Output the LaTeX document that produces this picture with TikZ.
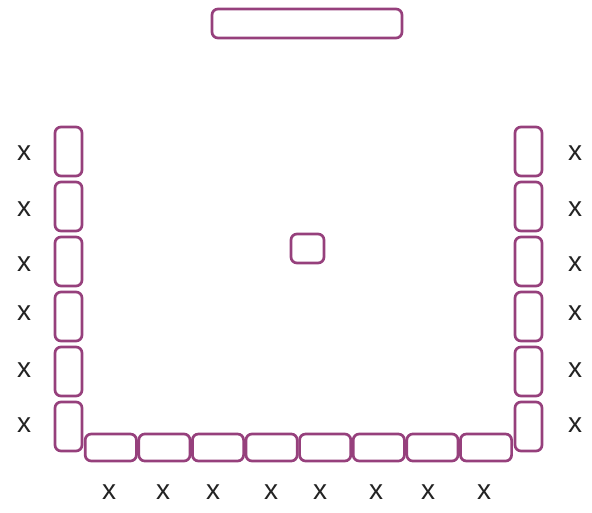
\documentclass[tikz,border=0pt]{standalone}
\usepackage{fontspec}
\setmainfont{Liberation Sans}
\usepackage{tikz}
\usetikzlibrary{arrows.meta, positioning}
\definecolor{seatpurple}{RGB}{150, 64, 124}
\definecolor{labelgray}{RGB}{35, 35, 35}
\tikzset{
    seat/.style={draw=seatpurple, line width=2.7pt, rounded corners=6pt, inner sep=0pt},
    sideseat/.style={seat, minimum width=27pt, minimum height=49pt},
    rowseat/.style={seat, minimum width=51.2pt, minimum height=27pt},
    xlabel/.style={text=labelgray, font=\fontsize{28}{32}\selectfont, inner sep=0pt}
}

\begin{document}
\begin{tikzpicture}[x=1pt, y=-1pt]
    \useasboundingbox (0,0) rectangle (592,512);
    % desk and center
    \node[seat, minimum width=190pt, minimum height=29pt] (desk) at (307,23.5) {};
    \node[seat, minimum width=33pt, minimum height=29pt] (centre) at (307.5,248.5) {};
    % left and right columns
    \foreach \i/\yl in {1/153, 2/209, 3/264, 4/313, 5/370, 6/425} {
        \node[sideseat] (left\i) at (68.5,{151.5+55*(\i-1)}) {};
        \node[sideseat] (right\i) at (528.5,{151.5+55*(\i-1)}) {};
        \node[xlabel] (lx\i) at (24,\yl) {x};
        \node[xlabel] (rx\i) at (575,\yl) {x};
    }
    % bottom row
    \foreach \i/\xl in {1/109, 2/163, 3/213, 4/271, 5/320, 6/376, 7/428, 8/484} {
        \node[rowseat] (row\i) at ({84+53.6*(\i-0.5)},447.5) {};
        \node[xlabel] (bx\i) at (\xl,492) {x};
    }
\end{tikzpicture}
\end{document}
